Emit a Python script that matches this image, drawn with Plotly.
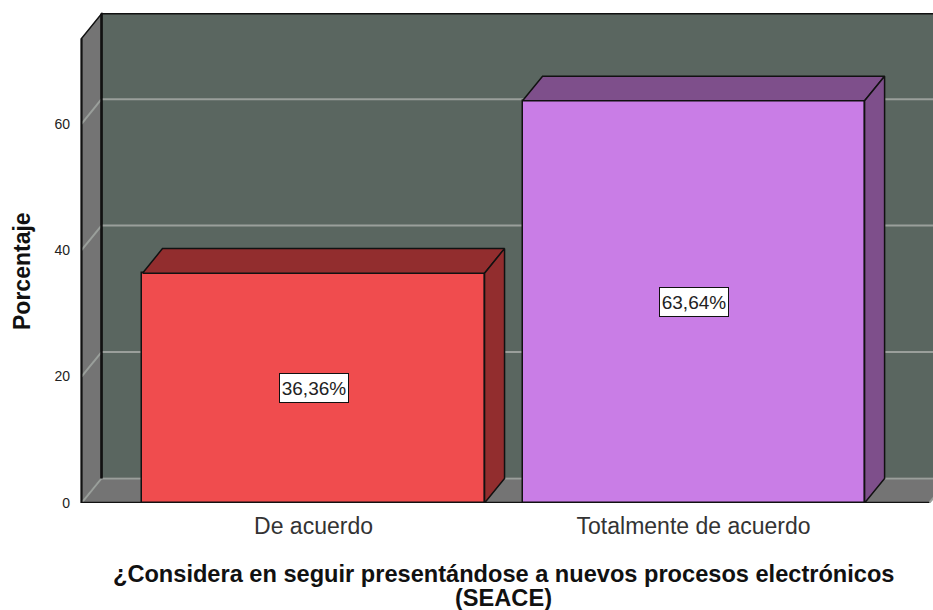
import plotly.graph_objects as go

CATEGORIES = ["De acuerdo", "Totalmente de acuerdo"]
VALUES = [36.36, 63.64]
LABELS = ["36,36%", "63,64%"]
Y_TICKS = [0, 20, 40, 60]
TITLE_LINES = ["¿Considera en seguir presentándose a nuevos procesos electrónicos", "(SEACE)"]
FRONT_COLORS = ["#f04c4e", "#c97de6"]
DARK_COLORS = ["#922d2e", "#7e4f8b"]

WALL = "#747474"
BACK = "#5a6660"
GRID = "#9a9f9b"
INK = "#111111"

# fake 3d: depth of the box in axis units
BAR_W = 0.9
DX = 20 / 380
DY = 24.5 / 6.3
X0 = -0.6105     # front left of the box
X1 = 1.62        # front right of the box
TOP = 73.5       # front top of the box


def poly(xs, ys, fill, line=INK, width=1.5):
    path = "M " + " L ".join(f"{x},{y}" for x, y in zip(xs, ys)) + " Z"
    return dict(type="path", path=path, fillcolor=fill, layer="below",
                line=dict(color=line, width=width))


def seg(x0, y0, x1, y1, color=GRID, width=2):
    return dict(type="line", x0=x0, y0=y0, x1=x1, y1=y1, layer="below",
                line=dict(color=color, width=width))


shapes = [
    poly([X0 + DX, X1 + DX + 1, X1 + DX + 1, X0 + DX],
         [DY, DY, TOP + DY, TOP + DY], BACK),
    poly([X0, X0 + DX, X0 + DX, X0], [0, DY, TOP + DY, TOP], WALL),
    poly([X0, X1, X1 + DX, X0 + DX], [0, 0, DY, DY], WALL, line=WALL, width=0.5),
]
for v in Y_TICKS:
    shapes.append(seg(X0, v, X0 + DX, v + DY))
    shapes.append(seg(X0 + DX, v + DY, X1 + DX + 1, v + DY))
shapes.append(seg(X1, 0, X1 + DX, DY))
shapes.append(seg(X0 + DX, DY, X0 + DX, TOP + DY, color=INK, width=2.5))
shapes.append(seg(X0, 0, X0, TOP, color=INK, width=2))
shapes.append(seg(X0, 0, X1, 0, color=INK, width=2.5))

fig = go.Figure()
fig.add_trace(go.Bar(
    x=[0, 1], y=VALUES, width=BAR_W,
    marker=dict(color=FRONT_COLORS, line=dict(color=INK, width=1.5)),
    showlegend=False,
))

for i, (v, dark) in enumerate(zip(VALUES, DARK_COLORS)):
    left = i - BAR_W / 2
    right = i + BAR_W / 2
    # top face
    fig.add_trace(go.Scatter(
        x=[left, right, right + DX, left + DX, left],
        y=[v, v, v + DY, v + DY, v],
        mode="lines", fill="toself", fillcolor=dark,
        line=dict(color=INK, width=1.5), showlegend=False, hoverinfo="skip",
    ))
    # side face
    fig.add_trace(go.Scatter(
        x=[right, right + DX, right + DX, right, right],
        y=[0, DY, v + DY, v, 0],
        mode="lines", fill="toself", fillcolor=dark,
        line=dict(color=INK, width=1.5), showlegend=False, hoverinfo="skip",
    ))
    fig.add_annotation(
        x=i, y=v / 2, text=LABELS[i], showarrow=False,
        font=dict(family="Liberation Sans", size=19, color="#222222"),
        bgcolor="white", bordercolor=INK, borderwidth=1, borderpad=0,
        width=68, height=28,
    )

# axis title in two tight lines, as the default line height is too tall here
for line, shift in zip(TITLE_LINES, [-70.5, -94.5]):
    fig.add_annotation(
        x=0.498, y=0, xref="paper", yref="paper", yanchor="middle",
        text=f"<b>{line}</b>", showarrow=False, yshift=shift,
        font=dict(family="Liberation Sans", size=23.6, color="#111111"),
    )

# y title sits lower than the plot centre in the original
fig.add_annotation(
    x=0, y=0.4706, xref="paper", yref="paper", xanchor="center", xshift=-56,
    textangle=-90, text="<b>Porcentaje</b>", showarrow=False,
    font=dict(family="Liberation Sans", size=23, color="#111111"),
)

fig.update_layout(
    width=933, height=610,
    margin=dict(l=78, r=0, t=10, b=106.5, autoexpand=False),
    plot_bgcolor="white", paper_bgcolor="white",
    bargap=0, shapes=shapes,
    font=dict(family="Liberation Sans", color="#222222"),
    xaxis=dict(
        range=[-0.6197, 1.630], showgrid=False, zeroline=False, showline=False,
        tickmode="array", tickvals=[0, 1], ticktext=CATEGORIES,
        tickfont=dict(size=23, color="#333333"), ticks="", ticklabelstandoff=7,
    ),
    yaxis=dict(
        range=[0, 78], showgrid=False, zeroline=False, showline=False,
        tickmode="array", tickvals=Y_TICKS, ticks="", ticklabelstandoff=7,
        tickfont=dict(size=14),
    ),
)

fig.write_html("out.html", config=dict(displayModeBar=False),
               post_script="document.body.style.margin = '0';")
